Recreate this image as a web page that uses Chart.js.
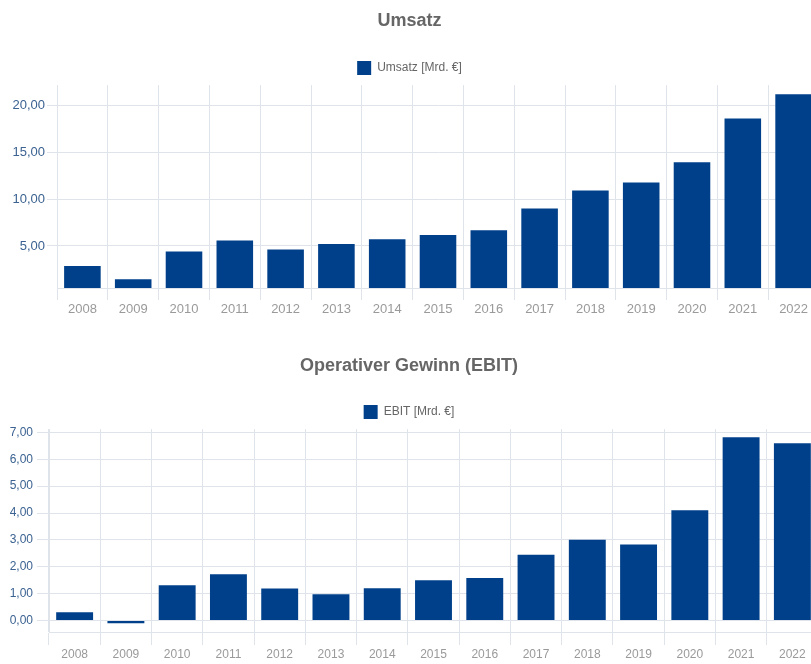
<!DOCTYPE html>
<html>
<head>
<meta charset="utf-8">
<script src="https://cdn.jsdelivr.net/npm/chart.js@4/dist/chart.umd.min.js"></script>
<style>
  html, body { margin: 0; padding: 0; background: #fff; overflow: hidden; width: 811px; height: 664px; }
  .wrap { position: absolute; left: 0; }
  #w1 { top: 0; width: 826px; height: 330px; }
  #w2 { top: 345px; width: 830px; height: 332px; }
</style>
</head>
<body>
<div class="wrap" id="w1"><canvas id="c1" width="826" height="330"></canvas></div>
<div class="wrap" id="w2"><canvas id="c2" width="830" height="332"></canvas></div>
<script>
const years = ['2008','2009','2010','2011','2012','2013','2014','2015','2016','2017','2018','2019','2020','2021','2022'];
const umsatz = [2.86, 1.43, 4.40, 5.58, 4.61, 5.20, 5.72, 6.18, 6.68, 9.00, 10.93, 11.79, 13.96, 18.64, 21.21];
const ebit = [0.31, -0.10, 1.31, 1.72, 1.19, 0.98, 1.20, 1.50, 1.58, 2.45, 3.01, 2.83, 4.10, 6.82, 6.59];
const umsatzTicks = [5, 10, 15, 20];
const ebitTicks = [0, 1, 2, 3, 4, 5, 6, 7];

const BAR = '#00408a';
const GRID = '#dfe3ea';
const FONT = "'Liberation Sans', Arial, sans-serif";

function fmt(v) { return Number(v).toFixed(2).replace('.', ','); }

function makeChart(id, opts) {
  return new Chart(document.getElementById(id), {
    type: 'bar',
    data: {
      labels: years,
      datasets: [{ label: opts.label, data: opts.data, backgroundColor: BAR, borderWidth: 0 }]
    },
    options: {
      responsive: false,
      animation: false,
      layout: { padding: { left: 0, right: opts.padRight, top: 2, bottom: 0 } },
      plugins: {
        title: {
          display: true, text: opts.title, color: '#666',
          font: { family: FONT, size: 18, weight: 'bold' },
          padding: { top: 8, bottom: 17 }
        },
        legend: {
          display: true,
          labels: { boxWidth: 14, boxHeight: 14, color: '#666', padding: opts.legPad,
                    font: { family: FONT, size: 12 } }
        },
        tooltip: { enabled: false }
      },
      scales: {
        x: {
          offset: true,
          grid: { color: GRID, offset: true, tickLength: opts.xTick, drawTicks: true },
          border: { color: GRID },
          ticks: { color: '#9a9a9a', padding: 2, font: { family: FONT, size: opts.fs } },
          afterFit: s => { s.height = opts.xH; }
        },
        y: {
          min: opts.min, max: opts.max,
          grid: { color: GRID, tickLength: opts.yTick },
          border: { color: GRID },
          ticks: { color: '#3b6291', padding: opts.yPad, font: { family: FONT, size: opts.fs },
                   callback: v => fmt(v) },
          afterBuildTicks: s => { s.ticks = opts.ticks.map(v => ({ value: v })); },
          afterFit: s => { s.width = opts.yW; }
        }
      }
    }
  });
}

makeChart('c1', { label: 'Umsatz [Mrd. €]', title: 'Umsatz', data: umsatz,
  min: 0.5, max: 22.2, ticks: umsatzTicks, padRight: 7, yW: 57, xH: 42, legPad: 12.5,
  xTick: 12, yTick: 10, yPad: 2, fs: 13 });
makeChart('c2', { label: 'EBIT [Mrd. €]', title: 'Operativer Gewinn (EBIT)', data: ebit,
  min: -0.425, max: 7.12, ticks: ebitTicks, padRight: 12, yW: 49, xH: 45, legPad: 11.5,
  xTick: 13, yTick: 12, yPad: 4, fs: 12 });
</script>
</body>
</html>
